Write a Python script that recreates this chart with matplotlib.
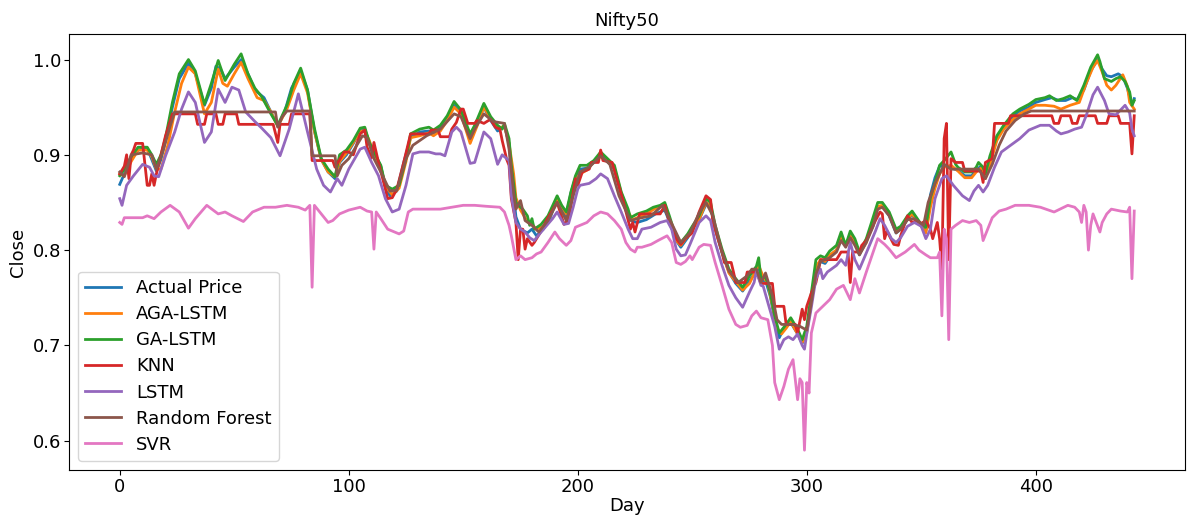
import matplotlib
matplotlib.use("Agg")
import matplotlib.pyplot as plt

# ---- data (day, normalised close) ----
actual_days = [0, 2, 5, 8, 12, 14, 16, 18, 20, 23, 26, 30, 33, 37, 40, 42, 44, 46, 50, 53, 56, 59, 63, 66, 69, 72, 75, 79, 82, 85, 88, 91, 94, 96, 99, 102, 105, 107, 109, 111, 114, 116, 118, 121, 124, 127, 131, 135, 137, 140, 143, 146, 149, 153, 156, 159, 162, 165, 168, 170, 171, 173, 175, 178, 180, 182, 185, 188, 191, 193, 195, 197, 199, 201, 204, 207, 210, 213, 216, 219, 222, 224, 226, 230, 234, 238, 240, 243, 245, 248, 250, 253, 256, 258, 260, 263, 266, 269, 272, 275, 278, 279, 280, 282, 284, 286, 288, 290, 293, 296, 298, 300, 302, 304, 306, 308, 310, 313, 315, 317, 319, 321, 323, 325, 328, 331, 333, 336, 339, 341, 344, 346, 349, 352, 354, 356, 358, 360, 363, 366, 369, 372, 374, 376, 378, 380, 383, 386, 390, 393, 397, 400, 404, 407, 410, 413, 416, 418, 421, 424, 427, 429, 431, 433, 436, 438, 440, 442, 443]
actual_vals = [0.869, 0.880, 0.895, 0.905, 0.907, 0.895, 0.883, 0.895, 0.915, 0.950, 0.980, 0.996, 0.985, 0.952, 0.970, 0.993, 0.990, 0.980, 0.992, 1.000, 0.985, 0.968, 0.960, 0.945, 0.930, 0.945, 0.970, 0.988, 0.968, 0.925, 0.895, 0.882, 0.875, 0.892, 0.900, 0.912, 0.925, 0.927, 0.912, 0.902, 0.888, 0.866, 0.857, 0.862, 0.892, 0.918, 0.924, 0.925, 0.923, 0.928, 0.938, 0.952, 0.943, 0.918, 0.935, 0.950, 0.936, 0.925, 0.930, 0.912, 0.880, 0.835, 0.822, 0.818, 0.822, 0.815, 0.822, 0.834, 0.855, 0.845, 0.835, 0.860, 0.876, 0.885, 0.886, 0.892, 0.900, 0.893, 0.885, 0.858, 0.838, 0.830, 0.829, 0.832, 0.838, 0.842, 0.830, 0.810, 0.803, 0.813, 0.822, 0.832, 0.848, 0.845, 0.822, 0.797, 0.777, 0.765, 0.757, 0.768, 0.778, 0.785, 0.768, 0.768, 0.752, 0.727, 0.708, 0.718, 0.724, 0.712, 0.702, 0.715, 0.748, 0.783, 0.788, 0.786, 0.793, 0.800, 0.813, 0.806, 0.815, 0.808, 0.795, 0.805, 0.822, 0.845, 0.846, 0.836, 0.818, 0.822, 0.832, 0.837, 0.828, 0.820, 0.858, 0.876, 0.888, 0.889, 0.886, 0.884, 0.878, 0.878, 0.884, 0.888, 0.877, 0.893, 0.917, 0.929, 0.940, 0.946, 0.950, 0.955, 0.958, 0.960, 0.957, 0.957, 0.960, 0.958, 0.968, 0.988, 1.000, 0.990, 0.983, 0.982, 0.985, 0.982, 0.970, 0.952, 0.959]

aga_days = [0, 2, 5, 8, 12, 14, 16, 18, 21, 24, 27, 30, 33, 37, 40, 43, 45, 47, 50, 53, 56, 60, 63, 66, 69, 73, 76, 79, 82, 85, 88, 91, 94, 96, 99, 102, 105, 107, 109, 111, 114, 116, 119, 122, 125, 127, 131, 135, 137, 140, 143, 146, 149, 153, 156, 159, 162, 165, 168, 170, 172, 173, 175, 178, 180, 182, 185, 188, 191, 193, 195, 197, 199, 201, 204, 207, 210, 213, 216, 219, 222, 224, 226, 230, 234, 238, 240, 243, 245, 248, 250, 253, 256, 258, 260, 263, 266, 269, 272, 275, 278, 279, 281, 283, 285, 287, 289, 291, 293, 296, 298, 300, 302, 304, 306, 308, 310, 313, 315, 317, 319, 321, 323, 326, 328, 331, 333, 336, 339, 341, 344, 346, 350, 352, 354, 356, 358, 360, 363, 366, 369, 372, 374, 376, 378, 380, 383, 386, 390, 393, 397, 400, 404, 408, 411, 415, 419, 422, 425, 427, 429, 431, 433, 435, 438, 440, 441, 443]
aga_vals = [0.880, 0.878, 0.893, 0.905, 0.905, 0.898, 0.885, 0.885, 0.910, 0.945, 0.975, 0.992, 0.985, 0.943, 0.955, 0.990, 0.975, 0.972, 0.985, 0.997, 0.980, 0.960, 0.957, 0.945, 0.930, 0.948, 0.968, 0.985, 0.965, 0.925, 0.895, 0.882, 0.877, 0.893, 0.902, 0.913, 0.925, 0.925, 0.915, 0.900, 0.887, 0.867, 0.858, 0.865, 0.893, 0.918, 0.920, 0.923, 0.920, 0.925, 0.936, 0.950, 0.943, 0.912, 0.930, 0.950, 0.938, 0.928, 0.930, 0.912, 0.880, 0.855, 0.842, 0.830, 0.827, 0.822, 0.825, 0.836, 0.853, 0.846, 0.838, 0.858, 0.874, 0.880, 0.884, 0.893, 0.898, 0.893, 0.886, 0.860, 0.840, 0.832, 0.834, 0.838, 0.844, 0.848, 0.833, 0.810, 0.805, 0.815, 0.822, 0.832, 0.850, 0.847, 0.823, 0.798, 0.776, 0.767, 0.758, 0.765, 0.780, 0.784, 0.772, 0.765, 0.742, 0.718, 0.712, 0.718, 0.725, 0.712, 0.703, 0.713, 0.745, 0.782, 0.790, 0.788, 0.795, 0.800, 0.815, 0.806, 0.815, 0.809, 0.796, 0.808, 0.823, 0.846, 0.847, 0.838, 0.820, 0.822, 0.833, 0.838, 0.825, 0.818, 0.845, 0.865, 0.880, 0.887, 0.889, 0.883, 0.876, 0.876, 0.882, 0.886, 0.875, 0.890, 0.915, 0.927, 0.937, 0.943, 0.948, 0.952, 0.952, 0.951, 0.948, 0.952, 0.955, 0.975, 0.992, 0.999, 0.987, 0.973, 0.968, 0.973, 0.984, 0.972, 0.955, 0.948]

ga_days = [0, 2, 5, 8, 12, 14, 16, 18, 20, 23, 26, 30, 33, 37, 40, 43, 46, 50, 53, 56, 59, 62, 66, 69, 73, 76, 79, 82, 85, 88, 91, 94, 96, 99, 102, 105, 107, 109, 111, 114, 116, 119, 122, 125, 127, 131, 135, 137, 140, 143, 146, 149, 153, 155, 159, 162, 165, 167, 168, 170, 171, 173, 174, 176, 178, 179, 180, 181, 184, 187, 191, 193, 195, 197, 199, 201, 204, 207, 210, 213, 216, 219, 222, 223, 226, 230, 233, 236, 238, 240, 243, 245, 248, 250, 253, 256, 258, 260, 263, 266, 269, 272, 275, 278, 279, 280, 282, 284, 286, 288, 291, 293, 296, 298, 300, 302, 304, 306, 308, 310, 313, 315, 317, 319, 321, 323, 326, 328, 331, 333, 336, 339, 341, 344, 346, 350, 352, 354, 356, 358, 360, 363, 365, 366, 369, 372, 374, 375, 377, 378, 380, 383, 386, 390, 393, 397, 400, 404, 406, 409, 412, 415, 418, 421, 424, 427, 428, 430, 433, 435, 437, 439, 441, 442, 443]
ga_vals = [0.878, 0.885, 0.898, 0.908, 0.908, 0.900, 0.890, 0.900, 0.918, 0.955, 0.985, 1.000, 0.988, 0.953, 0.975, 0.999, 0.978, 0.995, 1.006, 0.985, 0.970, 0.961, 0.943, 0.931, 0.952, 0.975, 0.991, 0.968, 0.928, 0.896, 0.885, 0.877, 0.900, 0.905, 0.915, 0.928, 0.929, 0.913, 0.903, 0.889, 0.868, 0.864, 0.868, 0.896, 0.922, 0.927, 0.929, 0.926, 0.931, 0.941, 0.956, 0.947, 0.922, 0.931, 0.954, 0.940, 0.931, 0.927, 0.933, 0.917, 0.889, 0.850, 0.847, 0.843, 0.836, 0.826, 0.833, 0.822, 0.827, 0.836, 0.857, 0.847, 0.840, 0.861, 0.878, 0.889, 0.889, 0.894, 0.903, 0.896, 0.889, 0.861, 0.843, 0.834, 0.838, 0.841, 0.845, 0.847, 0.850, 0.836, 0.813, 0.808, 0.817, 0.825, 0.836, 0.854, 0.850, 0.826, 0.801, 0.780, 0.770, 0.761, 0.773, 0.783, 0.792, 0.770, 0.772, 0.756, 0.731, 0.713, 0.722, 0.729, 0.717, 0.706, 0.720, 0.755, 0.790, 0.794, 0.792, 0.799, 0.805, 0.819, 0.805, 0.820, 0.812, 0.798, 0.812, 0.827, 0.850, 0.850, 0.840, 0.822, 0.825, 0.836, 0.841, 0.827, 0.824, 0.855, 0.871, 0.889, 0.894, 0.903, 0.890, 0.887, 0.882, 0.882, 0.887, 0.892, 0.887, 0.880, 0.899, 0.920, 0.931, 0.943, 0.948, 0.953, 0.958, 0.960, 0.962, 0.957, 0.959, 0.962, 0.957, 0.973, 0.992, 1.005, 0.998, 0.980, 0.977, 0.980, 0.982, 0.977, 0.966, 0.952, 0.957]

knn_days = [0, 2, 3, 4, 5, 6, 7, 10, 11, 12, 13, 14, 15, 16, 18, 20, 22, 23, 33, 34, 37, 38, 42, 43, 45, 46, 51, 52, 67, 69, 70, 74, 75, 83, 84, 93, 94, 96, 98, 100, 102, 105, 107, 108, 110, 111, 113, 116, 117, 119, 121, 124, 127, 135, 136, 139, 140, 144, 145, 147, 149, 150, 152, 155, 156, 159, 161, 162, 164, 166, 167, 169, 170, 171, 173, 174, 175, 176, 177, 178, 180, 181, 184, 187, 191, 194, 196, 198, 199, 200, 202, 205, 206, 209, 210, 211, 215, 217, 220, 223, 224, 225, 227, 232, 236, 238, 240, 243, 245, 247, 250, 253, 256, 258, 259, 263, 264, 267, 268, 269, 273, 274, 278, 280, 285, 286, 290, 291, 295, 296, 298, 299, 300, 302, 304, 305, 306, 313, 315, 318, 319, 320, 323, 324, 326, 330, 332, 333, 334, 335, 338, 340, 341, 344, 346, 348, 350, 352, 354, 355, 357, 358, 359, 360, 361, 362, 363, 365, 368, 369, 376, 377, 378, 381, 382, 388, 389, 407, 408, 410, 411, 415, 416, 418, 419, 426, 427, 431, 432, 436, 437, 441, 442, 443]
knn_vals = [0.880, 0.888, 0.900, 0.875, 0.900, 0.905, 0.912, 0.912, 0.890, 0.868, 0.868, 0.880, 0.868, 0.880, 0.900, 0.920, 0.935, 0.943, 0.943, 0.932, 0.932, 0.943, 0.943, 0.932, 0.932, 0.943, 0.943, 0.932, 0.932, 0.913, 0.932, 0.932, 0.943, 0.943, 0.894, 0.894, 0.887, 0.895, 0.903, 0.903, 0.900, 0.922, 0.926, 0.908, 0.897, 0.913, 0.892, 0.864, 0.854, 0.855, 0.864, 0.892, 0.922, 0.922, 0.926, 0.926, 0.919, 0.919, 0.927, 0.934, 0.948, 0.948, 0.933, 0.933, 0.936, 0.933, 0.936, 0.937, 0.929, 0.927, 0.915, 0.895, 0.889, 0.854, 0.829, 0.790, 0.822, 0.822, 0.801, 0.812, 0.805, 0.808, 0.820, 0.834, 0.850, 0.827, 0.832, 0.860, 0.875, 0.868, 0.882, 0.885, 0.892, 0.892, 0.905, 0.894, 0.892, 0.875, 0.850, 0.822, 0.829, 0.819, 0.838, 0.838, 0.838, 0.847, 0.829, 0.812, 0.806, 0.812, 0.818, 0.840, 0.857, 0.853, 0.830, 0.798, 0.787, 0.787, 0.777, 0.766, 0.766, 0.777, 0.777, 0.765, 0.765, 0.741, 0.741, 0.722, 0.722, 0.713, 0.738, 0.727, 0.741, 0.755, 0.766, 0.777, 0.790, 0.790, 0.798, 0.798, 0.766, 0.798, 0.798, 0.805, 0.810, 0.831, 0.840, 0.838, 0.812, 0.820, 0.806, 0.805, 0.815, 0.836, 0.829, 0.831, 0.828, 0.831, 0.822, 0.812, 0.829, 0.812, 0.780, 0.917, 0.933, 0.790, 0.896, 0.892, 0.892, 0.883, 0.883, 0.871, 0.892, 0.896, 0.933, 0.933, 0.941, 0.941, 0.933, 0.933, 0.941, 0.941, 0.933, 0.933, 0.941, 0.941, 0.933, 0.933, 0.941, 0.941, 0.933, 0.933, 0.901, 0.941]

lstm_days = [0, 1, 3, 6, 10, 13, 15, 17, 20, 24, 27, 30, 33, 37, 40, 43, 46, 49, 52, 55, 59, 62, 66, 70, 74, 78, 82, 86, 89, 92, 95, 97, 100, 105, 107, 110, 113, 116, 119, 122, 125, 128, 131, 135, 138, 140, 142, 145, 147, 149, 153, 155, 159, 162, 165, 167, 170, 171, 173, 175, 177, 179, 181, 184, 189, 191, 194, 196, 198, 200, 201, 205, 208, 210, 213, 216, 219, 222, 224, 226, 228, 232, 236, 239, 241, 243, 245, 247, 249, 253, 256, 258, 260, 263, 266, 269, 272, 275, 277, 278, 280, 281, 283, 286, 288, 290, 292, 294, 296, 298, 299, 300, 302, 304, 306, 307, 309, 313, 315, 317, 319, 321, 323, 326, 330, 332, 334, 337, 339, 341, 344, 347, 350, 352, 354, 356, 359, 361, 364, 368, 371, 373, 375, 377, 379, 382, 385, 389, 393, 397, 400, 402, 406, 409, 411, 414, 417, 420, 422, 425, 427, 430, 432, 435, 437, 439, 441, 442, 443]
lstm_vals = [0.854, 0.847, 0.868, 0.878, 0.890, 0.887, 0.878, 0.877, 0.899, 0.924, 0.948, 0.966, 0.955, 0.913, 0.924, 0.969, 0.955, 0.971, 0.968, 0.945, 0.935, 0.928, 0.918, 0.899, 0.927, 0.964, 0.924, 0.885, 0.868, 0.861, 0.875, 0.868, 0.885, 0.906, 0.908, 0.892, 0.878, 0.854, 0.840, 0.843, 0.868, 0.901, 0.903, 0.903, 0.901, 0.901, 0.899, 0.924, 0.929, 0.924, 0.891, 0.892, 0.924, 0.917, 0.890, 0.900, 0.894, 0.857, 0.829, 0.822, 0.819, 0.813, 0.810, 0.819, 0.833, 0.840, 0.827, 0.828, 0.845, 0.864, 0.868, 0.870, 0.875, 0.880, 0.875, 0.857, 0.840, 0.822, 0.812, 0.812, 0.822, 0.824, 0.829, 0.831, 0.822, 0.801, 0.794, 0.795, 0.806, 0.829, 0.836, 0.831, 0.808, 0.784, 0.763, 0.750, 0.740, 0.756, 0.766, 0.778, 0.763, 0.762, 0.745, 0.720, 0.696, 0.706, 0.709, 0.706, 0.712, 0.700, 0.696, 0.712, 0.740, 0.770, 0.780, 0.770, 0.777, 0.784, 0.790, 0.784, 0.808, 0.790, 0.780, 0.797, 0.820, 0.833, 0.826, 0.812, 0.808, 0.813, 0.825, 0.829, 0.825, 0.812, 0.822, 0.854, 0.875, 0.878, 0.868, 0.857, 0.852, 0.862, 0.868, 0.861, 0.868, 0.887, 0.903, 0.910, 0.917, 0.926, 0.929, 0.931, 0.931, 0.925, 0.922, 0.924, 0.927, 0.929, 0.941, 0.963, 0.971, 0.957, 0.943, 0.942, 0.947, 0.952, 0.944, 0.927, 0.920]

rf_days = [0, 2, 5, 10, 14, 16, 19, 22, 24, 68, 69, 71, 73, 83, 84, 94, 95, 97, 100, 106, 108, 111, 114, 118, 121, 125, 128, 134, 140, 146, 149, 153, 155, 159, 163, 168, 170, 172, 173, 175, 177, 180, 183, 187, 191, 195, 198, 201, 205, 210, 214, 218, 223, 226, 232, 237, 240, 245, 249, 253, 256, 259, 263, 266, 270, 274, 276, 278, 280, 282, 285, 287, 289, 294, 297, 300, 302, 304, 306, 310, 313, 315, 317, 319, 321, 323, 326, 329, 331, 333, 336, 339, 341, 344, 347, 351, 353, 356, 358, 360, 363, 366, 370, 375, 378, 381, 384, 387, 391, 395, 398, 443]
rf_vals = [0.882, 0.877, 0.900, 0.902, 0.900, 0.885, 0.905, 0.930, 0.945, 0.945, 0.929, 0.940, 0.946, 0.946, 0.899, 0.899, 0.878, 0.889, 0.896, 0.920, 0.918, 0.896, 0.882, 0.862, 0.863, 0.896, 0.910, 0.920, 0.927, 0.943, 0.940, 0.917, 0.927, 0.943, 0.935, 0.933, 0.906, 0.861, 0.843, 0.852, 0.831, 0.826, 0.819, 0.831, 0.850, 0.831, 0.857, 0.882, 0.887, 0.899, 0.890, 0.857, 0.831, 0.833, 0.836, 0.847, 0.833, 0.808, 0.818, 0.839, 0.850, 0.836, 0.798, 0.778, 0.766, 0.773, 0.780, 0.780, 0.766, 0.776, 0.752, 0.727, 0.722, 0.722, 0.720, 0.716, 0.745, 0.775, 0.788, 0.792, 0.798, 0.810, 0.803, 0.813, 0.805, 0.795, 0.808, 0.825, 0.843, 0.845, 0.836, 0.818, 0.822, 0.832, 0.833, 0.826, 0.850, 0.870, 0.880, 0.890, 0.885, 0.885, 0.885, 0.885, 0.875, 0.890, 0.910, 0.925, 0.936, 0.943, 0.946, 0.946]

svr_days = [0, 1, 2, 6, 10, 12, 15, 18, 22, 26, 30, 33, 38, 43, 46, 49, 54, 58, 63, 68, 73, 78, 81, 83, 84, 85, 88, 91, 93, 96, 100, 105, 108, 110, 111, 112, 114, 117, 120, 122, 124, 126, 128, 135, 140, 145, 150, 155, 160, 166, 168, 170, 171, 173, 175, 177, 180, 182, 184, 187, 190, 192, 195, 197, 199, 204, 207, 210, 213, 216, 219, 221, 223, 225, 226, 228, 232, 235, 239, 241, 243, 245, 247, 249, 250, 253, 255, 258, 260, 263, 266, 269, 271, 274, 276, 278, 280, 283, 285, 286, 288, 290, 292, 294, 296, 297, 298, 299, 300, 301, 302, 304, 307, 310, 313, 316, 319, 321, 323, 326, 329, 331, 334, 336, 339, 343, 347, 349, 352, 354, 357, 358, 359, 360, 361, 362, 363, 365, 368, 371, 374, 376, 377, 379, 381, 384, 387, 391, 397, 402, 408, 414, 417, 419, 420, 421, 422, 423, 424, 425, 428, 429, 431, 433, 437, 440, 441, 442, 443]
svr_vals = [0.829, 0.827, 0.834, 0.834, 0.834, 0.836, 0.833, 0.840, 0.847, 0.840, 0.823, 0.833, 0.847, 0.838, 0.840, 0.836, 0.830, 0.840, 0.845, 0.845, 0.847, 0.845, 0.842, 0.847, 0.761, 0.847, 0.838, 0.829, 0.831, 0.838, 0.842, 0.845, 0.841, 0.840, 0.801, 0.840, 0.833, 0.822, 0.819, 0.817, 0.820, 0.840, 0.843, 0.843, 0.843, 0.845, 0.847, 0.847, 0.846, 0.845, 0.840, 0.826, 0.815, 0.790, 0.794, 0.790, 0.792, 0.796, 0.798, 0.808, 0.819, 0.812, 0.805, 0.810, 0.824, 0.829, 0.836, 0.840, 0.838, 0.831, 0.822, 0.808, 0.801, 0.798, 0.803, 0.803, 0.806, 0.810, 0.815, 0.808, 0.787, 0.785, 0.788, 0.794, 0.790, 0.803, 0.806, 0.805, 0.787, 0.763, 0.738, 0.722, 0.719, 0.721, 0.731, 0.736, 0.729, 0.727, 0.700, 0.661, 0.643, 0.657, 0.675, 0.685, 0.643, 0.665, 0.661, 0.590, 0.661, 0.650, 0.713, 0.734, 0.741, 0.748, 0.759, 0.763, 0.748, 0.770, 0.755, 0.777, 0.798, 0.812, 0.806, 0.801, 0.792, 0.798, 0.806, 0.800, 0.795, 0.792, 0.792, 0.798, 0.731, 0.822, 0.812, 0.706, 0.822, 0.826, 0.831, 0.829, 0.831, 0.826, 0.810, 0.822, 0.834, 0.841, 0.843, 0.847, 0.847, 0.845, 0.840, 0.847, 0.845, 0.840, 0.829, 0.847, 0.840, 0.800, 0.826, 0.838, 0.819, 0.829, 0.838, 0.843, 0.841, 0.840, 0.845, 0.770, 0.841]

series = [
    ("Actual Price", actual_days, actual_vals),
    ("AGA-LSTM", aga_days, aga_vals),
    ("GA-LSTM", ga_days, ga_vals),
    ("KNN", knn_days, knn_vals),
    ("LSTM", lstm_days, lstm_vals),
    ("Random Forest", rf_days, rf_vals),
    ("SVR", svr_days, svr_vals),
]

fig = plt.figure(figsize=(11.92, 5.17), dpi=100)
ax = fig.add_axes([0.0579, 0.0909, 0.9362, 0.8433])
for name, d, v in series:
    ax.plot(d, v, label=name, linewidth=2)

ax.set_title("Nifty50", fontsize=13)
ax.set_xlabel("Day", fontsize=13, labelpad=1)
ax.set_ylabel("Close", fontsize=13)
ax.tick_params(labelsize=13, pad=2)
ax.set_xticks([0, 100, 200, 300, 400])
ax.legend(loc="lower left", fontsize=13, labelspacing=0.45)

fig.savefig("out.png", dpi=100)
